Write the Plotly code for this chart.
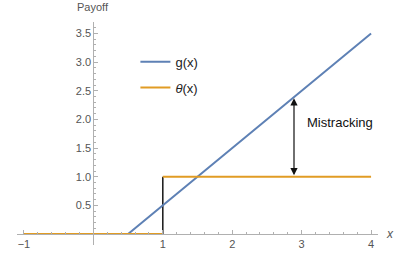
import plotly.graph_objects as go

# data
g_x = [-1, 0.5, 4]
g_y = [0, 0, 3.5]
theta_x = [-1, 1, None, 1, 4]
theta_y = [0, 0, None, 1, 1]
jump_x = [1, 1]
jump_y = [0, 1]
x_ticks = [-1, 1, 2, 3, 4]
x_tick_labels = ["\u22121", "1", "2", "3", "4"]
y_ticks = [0.5, 1.0, 1.5, 2.0, 2.5, 3.0, 3.5]
y_tick_labels = ["0.5", "1.0", "1.5", "2.0", "2.5", "3.0", "3.5"]
arrow_x = 2.89
arrow_y0 = 1.0
arrow_y1 = 2.37
label_text = "Mistracking"

xmin, xmax = -1.1, 4.1
ymin, ymax = -0.19, 3.7

BLUE = "#5E81B5"
ORANGE = "#E19C24"
AX = "#b0b0b0"
TXT = "#555555"
FONT = "Liberation Sans, Arial, sans-serif"

fig = go.Figure()
fig.add_trace(go.Scatter(x=jump_x, y=jump_y, mode="lines",
                         line=dict(color="#222222", width=1.6), showlegend=False, hoverinfo="skip"))
fig.add_trace(go.Scatter(x=g_x, y=g_y, mode="lines", name="g(x)", legendgroup="a",
                         line=dict(color=BLUE, width=2)))
fig.add_trace(go.Scatter(x=theta_x, y=theta_y, mode="lines", name="<i>\u03b8</i>(x)", legendgroup="b",
                         line=dict(color=ORANGE, width=2)))

xminor = [round(-1 + 0.2 * i, 2) for i in range(0, 26) if abs(round(-1 + 0.2 * i, 2) - round(-1 + 0.2 * i)) > 1e-6]
yminor = [round(0.1 * i, 2) for i in range(1, 37) if i % 5 != 0]

fig.update_layout(
    width=415, height=255,
    margin=dict(l=17, r=37, t=22, b=10),
    paper_bgcolor="white", plot_bgcolor="white",
    font=dict(family=FONT, color=TXT, size=11),
    xaxis=dict(range=[xmin, xmax], domain=[0, 1], anchor="free",
               position=(0 - ymin) / (ymax - ymin),
               showgrid=False, zeroline=False, showline=True, linecolor=AX, linewidth=1,
               ticks="inside", ticklen=4, tickcolor=AX, tickwidth=1,
               tickmode="array", tickvals=x_ticks, ticktext=x_tick_labels,
               minor=dict(tickmode="array", tickvals=xminor, ticks="inside", ticklen=2, tickcolor=AX),
               tickfont=dict(size=11, color=TXT), automargin=False),
    yaxis=dict(range=[ymin, ymax], domain=[0, 1], anchor="free",
               position=(0 - xmin) / (xmax - xmin),
               showgrid=False, zeroline=False, showline=True, linecolor=AX, linewidth=1,
               ticks="inside", ticklen=4, tickcolor=AX, tickwidth=1,
               tickmode="array", tickvals=y_ticks, ticktext=y_tick_labels,
               minor=dict(tickmode="array", tickvals=yminor, ticks="inside", ticklen=2, tickcolor=AX),
               tickfont=dict(size=11, color=TXT), automargin=False),
    legend=dict(x=0.328, y=0.889, xanchor="left", yanchor="top", bgcolor="rgba(0,0,0,0)",
                font=dict(size=13, color="#222222"), tracegroupgap=6),
    showlegend=True,
)

fig.add_annotation(x=arrow_x, y=arrow_y1, ax=arrow_x, ay=arrow_y0, xref="x", yref="y",
                   axref="x", ayref="y", text="", showarrow=True, arrowhead=2, startarrowhead=2,
                   arrowside="end+start", arrowsize=1.2, arrowwidth=1.2, arrowcolor="#111111",
                   standoff=0, startstandoff=0)
fig.add_annotation(x=3.05, y=1.95, xref="x", yref="y", text=label_text, showarrow=False,
                   xanchor="left", yanchor="middle", font=dict(size=13, color="#111111"))
fig.add_annotation(x=0, y=ymax, xref="x", yref="y", text="Payoff", showarrow=False,
                   xanchor="center", yanchor="bottom", yshift=7, font=dict(size=11, color=TXT))
fig.add_annotation(x=xmax, y=0, xref="x", yref="y", text="<i>x</i>", showarrow=False,
                   xanchor="left", yanchor="middle", xshift=6, font=dict(size=12, color=TXT))

# remove the browser's default 8px body margin so the 415x255 figure fills the window
fig.write_html("out.html", config={"displayModeBar": False},
               post_script="document.body.style.margin='0';")
